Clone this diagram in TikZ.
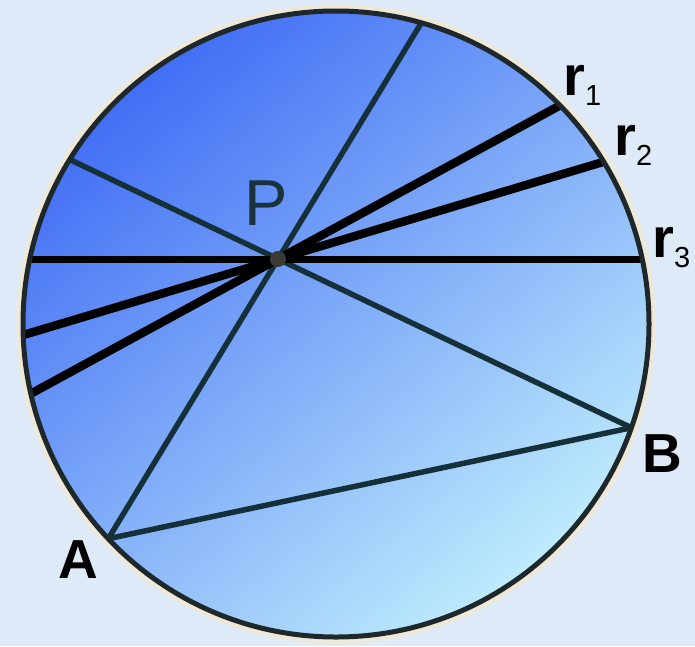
\documentclass[tikz,border=0pt]{standalone}
\usepackage{fontspec}
\setmainfont{Liberation Sans}
\newcommand\rsubscript[1]{\raisebox{-10pt}{\fontsize{29}{29}\selectfont\mdseries #1}}
\definecolor{bg}{RGB}{222,234,248}
\definecolor{blueD}{RGB}{66,110,245}
\definecolor{blueL}{RGB}{190,235,252}
\definecolor{chordcol}{RGB}{22,48,58}
\definecolor{rimcol}{RGB}{30,40,42}
\definecolor{halocol}{RGB}{240,232,214}
\definecolor{dotcol}{RGB}{60,58,55}
\definecolor{pcol}{RGB}{25,50,60}
\begin{document}
\begin{tikzpicture}[x=1pt,y=-1pt,
  chord/.style={line width=5.5pt, draw=chordcol},
  rline/.style={line width=8.5pt, draw=black},
  hline/.style={line width=7pt, draw=black},
  rim/.style={line width=5pt, draw=rimcol},
  halo/.style={line width=4pt, draw=halocol},
  blab/.style={inner sep=0pt, font=\fontsize{55}{55}\selectfont\bfseries, text=black},
  rlab/.style={inner sep=0pt, anchor=base west, font=\fontsize{56}{56}\selectfont\bfseries, text=black},
  plab/.style={inner sep=0pt, font=\fontsize{65}{65}\selectfont, text=pcol}
]
\useasboundingbox (0,0) rectangle (695,646);
\fill[bg] (0,0) rectangle (695,646);
\coordinate (C) at (336,324);
\coordinate (P) at (278,259);
% chord end points on the circle
\coordinate (H1) at (29.8,259);
\coordinate (H2) at (642.2,259);
\coordinate (T) at (421.3,22.9);
\coordinate (A) at (108.3,538.7);
\coordinate (B) at (631.3,427.7);
\coordinate (L) at (69.7,159.5);
\coordinate (R1a) at (560,105.4);
\coordinate (R1b) at (30.8,393.7);
\coordinate (R2a) at (603.7,161.8);
\coordinate (R2b) at (23.2,335);
% disc
\shade[top color=blueD, bottom color=blueL, shading angle=40] (C) circle[radius=313pt];
% chords
\draw[chord] (T) -- (A);
\draw[chord] (L) -- (B);
\draw[chord] (A) -- (B);
\draw[rline] (R1a) -- (R1b);
\draw[rline] (R2a) -- (R2b);
\draw[hline] (H1) -- (H2);
% rim
\draw[halo] (C) circle[radius=317.5pt];
\draw[rim] (C) circle[radius=313pt];
% point P
\fill[dotcol] (P) circle[radius=8pt];
% labels
\node[plab] (lP) at (266,203) {P};
\node[blab] (lA) at (78,560) {A};
\node[blab] (lB) at (662,454) {B};
\node[rlab] (lr1) at (563,95) {r\rsubscript{1}};
\node[rlab] (lr2) at (614,155) {r\rsubscript{2}};
\node[rlab] (lr3) at (652,257) {r\rsubscript{3}};
\end{tikzpicture}
\end{document}
